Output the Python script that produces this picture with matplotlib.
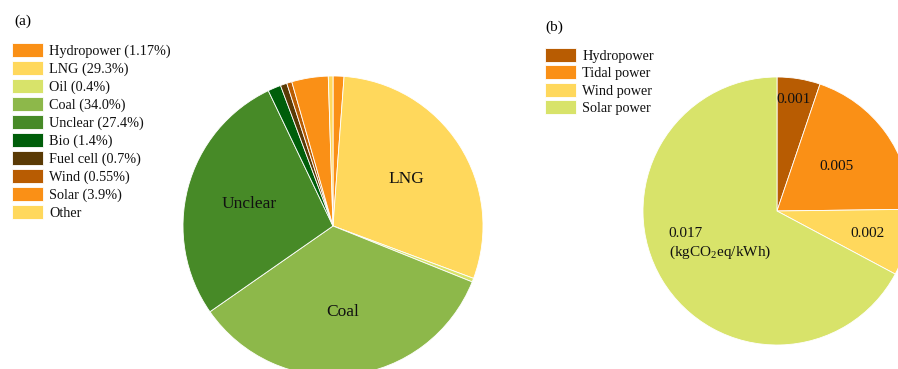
import numpy as np
import matplotlib.pyplot as plt

plt.rcParams['font.family'] = ['Liberation Serif', 'DejaVu Serif']
plt.rcParams['mathtext.fontset'] = 'custom'
plt.rcParams['mathtext.rm'] = 'Liberation Serif'

# (a) power generation mix
mix_share = [1.17, 29.3, 0.4, 34.0, 27.4, 1.4, 0.7, 0.55, 3.9, 0.5]
mix_legend = ['Hydropower (1.17%)', 'LNG (29.3%)', 'Oil (0.4%)', 'Coal (34.0%)',
              'Unclear (27.4%)', 'Bio (1.4%)', 'Fuel cell (0.7%)', 'Wind (0.55%)',
              'Solar (3.9%)', 'Other']
mix_labels = ['', 'LNG', '', 'Coal', 'Unclear', '', '', '', '', '']
mix_colors = ['#FA9016', '#FFD85C', '#D8E36A', '#8DB84A', '#478A27',
              '#005E0A', '#5A3A05', '#B85C02', '#FA9016', '#FFD85C']

# (b) emission factors (kgCO2eq/kWh)
ef_names = ['Hydropower', 'Tidal power', 'Wind power', 'Solar power']
ef_values = [0.0013, 0.0049, 0.002, 0.0168]
ef_labels = ['0.001', '0.005', '0.002', '0.017\n(kgCO$_\\mathrm{2}$eq/kWh)']
ef_colors = ['#B85C02', '#FA9016', '#FFD85C', '#D8E36A']
ef_label_r = [0.84, 0.57, 0.71, 0.48]

W, H = 898, 369
fig = plt.figure(figsize=(W / 100, H / 100), dpi=100)
ax = fig.add_axes([0, 0, 1, 1])

edge = dict(edgecolor='white', linewidth=0.6)
wa, _ = ax.pie(mix_share, colors=mix_colors, startangle=90, counterclock=False,
               center=(333, H - 226), radius=150, wedgeprops=edge)
for w, lab in zip(wa, mix_labels):
    if lab:
        a = np.deg2rad((w.theta1 + w.theta2) / 2)
        ax.text(w.center[0] + 0.58 * w.r * np.cos(a), w.center[1] + 0.58 * w.r * np.sin(a),
                lab, ha='center', va='center', fontsize=12.5, color='#111111')

wb, _ = ax.pie(ef_values, colors=ef_colors, startangle=90, counterclock=False,
               center=(777, H - 211), radius=134, wedgeprops=edge)
for w, lab, rr in zip(wb, ef_labels, ef_label_r):
    a = np.deg2rad((w.theta1 + w.theta2) / 2)
    ax.text(w.center[0] + rr * w.r * np.cos(a) - 2, w.center[1] + rr * w.r * np.sin(a),
            lab, ha='center', va='center', multialignment='left', fontsize=11,
            color='#111111', linespacing=1.3)

ax.set_xlim(0, W)
ax.set_ylim(0, H)
ax.set_aspect('auto')
ax.axis('off')

leg_kw = dict(loc='upper left', frameon=False, fontsize=10.3, handlelength=2.15,
              handleheight=1.1, handletextpad=0.45,
              borderpad=0, borderaxespad=0, labelcolor='#111111')
fig.legend(wa, mix_legend, bbox_to_anchor=(12 / W, 1 - 43 / H), labelspacing=0.22, **leg_kw)
fig.legend(wb, ef_names, bbox_to_anchor=(545 / W, 1 - 48 / H), labelspacing=0.19, **leg_kw)

fig.text(23 / W, 1 - 21 / H, '(a)', ha='center', va='center', fontsize=11)
fig.text(554 / W, 1 - 27 / H, '(b)', ha='center', va='center', fontsize=11)

fig.savefig('out.png', dpi=100)
